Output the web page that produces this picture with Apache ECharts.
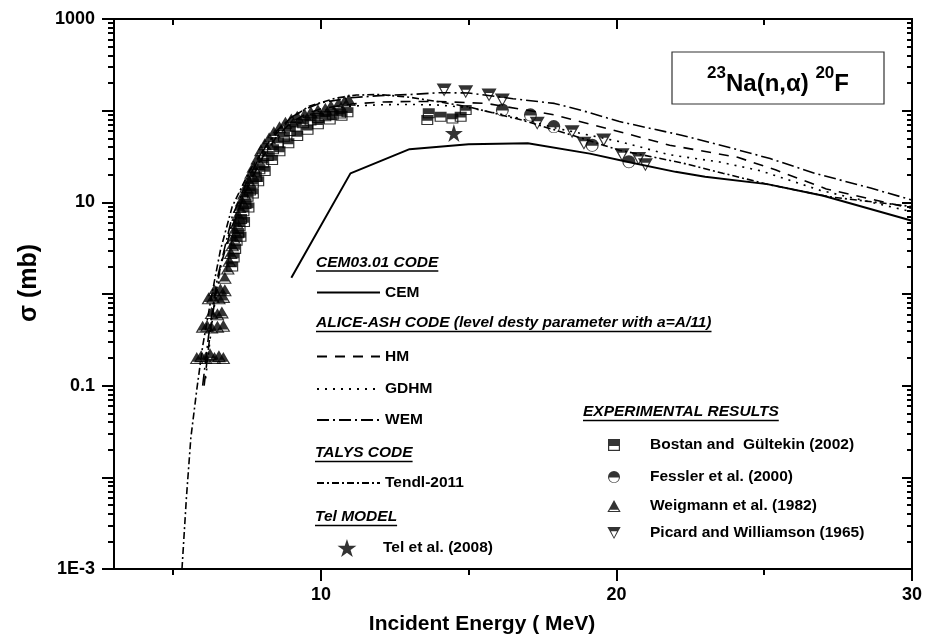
<!DOCTYPE html>
<html>
<head>
<meta charset="utf-8">
<script src="https://cdn.jsdelivr.net/npm/echarts@6/dist/echarts.min.js"></script>
<style>
html,body{margin:0;padding:0;background:#fff;}
#chart{width:933px;height:642px;}
</style>
</head>
<body>
<div id="chart"></div>
<script>
// ---------------- DATA ----------------
const X_LABELS = [10, 20, 30];
const X_MINOR = [5, 15, 25];
const Y_LABELS = [0.001, 0.1, 10, 1000];
const Y_DECADES = [0.001, 0.01, 0.1, 1, 10, 100, 1000];

const CEM = [[9.0,1.5],[11.0,20.7],[13.0,38],[15.0,43],[17.0,44],[19.1,34],[20.4,27.5],[22.0,21.5],[23.0,19],[25.1,15.8],[27.0,11.8],[30.0,6.3]];
const HM = [[6.05,0.1],[6.3,0.5],[6.6,2.0],[7.0,5.5],[7.5,14],[8.0,30],[8.5,52],[9.0,75],[9.5,92],[10.0,105],[11.0,118],[12.0,124],[13.0,126],[14.0,126],[15.6,120],[17.9,90],[20.1,59],[21.8,42],[24.1,31],[25.4,22.5],[27.1,14],[30.0,8.6]];
const GDHM = [[6.1,0.12],[6.35,0.6],[6.65,2.3],[7.0,6],[7.5,15],[8.0,31],[8.5,52],[9.0,72],[9.5,88],[10.0,100],[11.0,112],[12.0,116],[13.0,117],[14.0,115],[15.0,108],[16.5,86],[18.0,64],[20.1,46],[21.8,33],[23.5,27.5],[24.9,22],[26.9,13.5],[30.0,7.9]];
const WEM = [[6.0,0.1],[6.2,0.35],[6.5,1.5],[7.0,7],[7.5,17],[8.0,35],[8.5,60],[9.0,85],[9.5,105],[10.0,122],[11.0,138],[12.0,146],[13.0,150],[14.0,157],[15.0,156],[16.5,135],[17.9,120],[19.0,97],[20.1,76],[22.2,54],[23.9,39],[25.2,30],[26.7,20.8],[28.6,14.3],[30.0,10.6]];
const TENDL = [[5.3,0.001],[5.45,0.006],[5.6,0.027],[5.8,0.09],[6.0,0.27],[6.3,0.95],[6.6,3.0],[7.0,9],[7.6,22.5],[8.2,44],[8.9,79],[9.6,112],[10.5,137],[11.2,148],[12.0,150],[13.0,140],[14.0,125],[15.0,110],[16.8,79],[18.5,54],[20.1,37],[22.2,27],[23.6,20.8],[25.2,15.5],[27.2,11.5],[30.0,9.0]];

const TEL = [[14.5,57]];
const BOSTAN = [[7.0,2.0],[7.05,2.5],[7.1,3.1],[7.15,3.8],[7.2,4.6],[7.25,5.5],[7.3,6.6],[7.38,8],[7.45,9.6],[7.52,11.5],[7.6,13.5],[7.7,16],[7.8,19],[7.92,23],[8.05,27],[8.2,32],[8.38,38],[8.55,45],[8.75,52],[8.95,60],[9.15,67],[9.4,73],[9.65,78],[9.9,83],[10.15,87],[10.4,90],[10.65,93],[10.9,96],
  [7.28,4.2],[7.4,6.1],[7.55,8.8],[7.7,12.5],[7.88,17],[8.1,22],[8.35,29],[8.6,36],[8.9,44],[9.2,53],[9.55,62],[9.9,71],[10.3,80],[10.7,88],
  [13.6,79],[13.65,94],[14.05,86],[14.45,82],[14.73,86],[14.9,102]];
const FESSLER = [[16.14,102],[17.09,90],[17.88,67],[19.18,42],[20.42,27.8]];
const WEIGMANN = [[5.8,0.2],[5.95,0.21],[6.1,0.2],[6.25,0.22],[6.4,0.2],[6.55,0.21],[6.7,0.2],
  [6.0,0.44],[6.15,0.45],[6.3,0.43],[6.5,0.44],[6.7,0.45],
  [6.3,0.62],[6.5,0.6],[6.65,0.63],
  [6.2,0.9],[6.35,0.92],[6.55,0.9],[6.7,0.93],
  [6.4,1.1],[6.6,1.12],[6.75,1.1],
  [6.75,1.5],[6.85,1.9],[6.9,2.3],[6.95,2.8],[7.0,3.4],[7.05,4.1],[7.08,5.0],[7.15,6.0],[7.2,7.3],[7.25,8.9],[7.32,10.5],[7.4,12.5],[7.47,14.8],[7.55,17.5],[7.64,21],[7.72,24.5],[7.85,30],[7.97,37],[8.1,43],[8.25,50],[8.41,58],[8.6,66],[8.8,74],[9.0,80],[9.2,86],[9.45,91],[9.66,96],[9.9,101],[10.15,105],[10.34,112],[10.6,120],[10.8,126],[10.95,131]];
const PICARD = [[14.17,168],[14.9,161],[15.69,148],[16.14,131],[17.32,73],[18.5,59],[18.9,44],[19.57,48],[20.19,33],[20.75,30],[20.98,25.7]];

// ---------------- STYLE ----------------
const FF = '"Liberation Sans", Arial, sans-serif';
const SYM_TRI_UP = 'path://M50,0 L86.1,65 L13.9,65 Z M13.9,65 L86.1,65 L100,90 L0,90 Z M19.4,73 L14.4,82 L85.6,82 L80.6,73 Z';
const SYM_TRI_DOWN = 'path://M0,0 L100,0 L86.1,25 L13.9,25 Z M13.9,25 L86.1,25 L50,90 Z M27.2,31 L50,76 L72.8,31 Z';
const SYM_SQUARE = 'path://M0,0 L100,0 L100,50 L0,50 Z M0,50 L100,50 L100,100 L0,100 Z M10,58 L10,90 L90,90 L90,58 Z';
const SYM_CIRCLE = 'path://M0,50 A50,50 0 0 1 100,50 Z M0,50 L100,50 A50,50 0 0 1 0,50 Z M9,54 A41,41 0 0 0 91,54 Z';
const SYM_STAR = 'path://M50,0 L61.2,34.5 L97.6,34.5 L68.2,55.9 L79.4,90.5 L50,69.1 L20.6,90.5 L31.8,55.9 L2.4,34.5 L38.8,34.5 Z';

const yMinor = [];
[0.001, 0.01, 0.1, 1, 10, 100].forEach(d => { for (let m = 2; m <= 9; m++) yMinor.push(+(d * m).toPrecision(3)); });

const mctx = document.createElement('canvas').getContext('2d');
function textW(t, font) { mctx.font = font; return mctx.measureText(t).width; }

const chart = echarts.init(document.getElementById('chart'), null, {renderer: 'canvas'});

const axisLineStyle = {color: '#000', width: 2};
function xAx(pos, ticks, len, inside, extra) {
  return Object.assign({
    type: 'value', min: 3, max: 30, position: pos,
    axisLine: {show: true, lineStyle: axisLineStyle},
    axisTick: {show: true, inside: inside, customValues: ticks, length: len, lineStyle: {color: '#000', width: 2}},
    axisLabel: {show: false},
    splitLine: {show: false}
  }, extra || {});
}
function yAx(pos, ticks, len, inside, extra) {
  return Object.assign({
    type: 'log', logBase: 10, min: 0.001, max: 1000, position: pos,
    axisLine: {show: true, lineStyle: axisLineStyle},
    axisTick: {show: true, inside: inside, customValues: ticks, length: len, lineStyle: {color: '#000', width: 2}},
    axisLabel: {show: false},
    splitLine: {show: false}, minorTick: {show: false}
  }, extra || {});
}

const labelFont = {fontFamily: FF, fontWeight: 'bold', fontSize: 18, color: '#000'};

const xAxes = [
  xAx('bottom', X_LABELS, 12, false, {
    axisLabel: {show: true, customValues: X_LABELS, margin: 17, ...labelFont},
    name: 'Incident Energy ( MeV)', nameLocation: 'middle', nameGap: 45,
    nameTextStyle: {fontFamily: FF, fontWeight: 'bold', fontSize: 21, color: '#000', padding: [0, 62, 0, 0]}
  }),
  xAx('bottom', X_MINOR, 6, false),
  xAx('top', X_LABELS, 10, true),
  xAx('top', X_MINOR, 6, true)
];
const yAxes = [
  yAx('left', Y_DECADES, 12, false, {
    axisLabel: {show: true, customValues: Y_LABELS, margin: 19, ...labelFont,
      formatter: v => { const e = Math.round(Math.log10(v)); return e === -3 ? '1E-3' : e === -1 ? '0.1' : e === 1 ? '10' : '1000'; }},
    name: 'σ (mb)', nameLocation: 'middle', nameGap: 72,
    nameTextStyle: {fontFamily: FF, fontWeight: 'bold', fontSize: 25, color: '#000', padding: [0, 0, 0, 22]}
  }),
  yAx('left', yMinor, 6, false),
  yAx('right', Y_DECADES, 10, true),
  yAx('right', yMinor, 5, true)
];

function lineSeries(name, data, dash, width) {
  return {
    name, type: 'line', data, xAxisIndex: 0, yAxisIndex: 0,
    symbol: 'circle', symbolSize: 0, showSymbol: false, smooth: false,
    itemStyle: {color: '#000'},
    lineStyle: {color: '#000', width: width || 1.6, type: dash},
    emphasis: {disabled: true}, silent: true, z: 2
  };
}
function scatterSeries(name, data, symbol, size) {
  return {
    name, type: 'scatter', data, xAxisIndex: 0, yAxisIndex: 0,
    symbol, symbolSize: size, itemStyle: {color: '#000', borderWidth: 0},
    emphasis: {disabled: true}, silent: true, z: 3
  };
}

const series = [
  lineSeries('CEM', CEM, 'solid', 2),
  lineSeries('HM', HM, [10, 8]),
  lineSeries('GDHM', GDHM, [2, 6]),
  lineSeries('WEM', WEM, [12, 4, 2, 4]),
  lineSeries('Tendl-2011', TENDL, [7, 3, 2, 3]),
  scatterSeries('Bostan and  Gültekin (2002)', BOSTAN, SYM_SQUARE, [12, 10]),
  scatterSeries('Weigmann et al. (1982)', WEIGMANN, SYM_TRI_UP, [14, 12]),
  scatterSeries('Fessler et al. (2000)', FESSLER, SYM_CIRCLE, [13, 13]),
  scatterSeries('Picard and Williamson (1965)', PICARD, SYM_TRI_DOWN, [15, 13]),
  scatterSeries('Tel et al. (2008)', TEL, SYM_STAR, [18, 18])
];

const legendText = {fontFamily: FF, fontWeight: 'bold', fontSize: 15.5, color: '#000', lineHeight: 16};
function lineLegend(name, centerY) {
  return {data: [name], left: 316, top: centerY - 8, orient: 'horizontal', padding: 0,
    itemWidth: 63, itemHeight: 16, itemGap: 0, selectedMode: false,
    itemStyle: {opacity: 0}, textStyle: legendText};
}
// legend box is laid out from the icon's visible left edge, so left = icon centre - icon width / 2
function symLegend(name, iconCenterX, iconW, centerY, h) {
  return {data: [name], left: iconCenterX - iconW / 2, top: centerY - 8, orient: 'horizontal', padding: 0,
    itemWidth: 62, itemHeight: h, itemGap: 0, selectedMode: false, textStyle: legendText};
}
const legends = [
  lineLegend('CEM', 292.5),
  lineLegend('HM', 356.5),
  lineLegend('GDHM', 389),
  lineLegend('WEM', 420),
  lineLegend('Tendl-2011', 483),
  symLegend('Tel et al. (2008)', 347, 19, 547, 18),
  symLegend('Bostan and  Gültekin (2002)', 614, 12, 445, 12),
  symLegend('Fessler et al. (2000)', 614, 12, 477, 12),
  symLegend('Weigmann et al. (1982)', 614, 13.3, 506, 12),
  symLegend('Picard and Williamson (1965)', 614, 13.3, 533, 12)
];

// headings (underlined, bold italic)
const HFONT = 'italic bold 15.5px ' + FF;
const headings = [
  ['CEM03.01 CODE', 316, 262.5],
  ['ALICE-ASH CODE (level desty parameter with a=A/11)', 316, 323],
  ['TALYS CODE', 315, 453],
  ['Tel MODEL', 315, 517],
  ['EXPERIMENTAL RESULTS', 583, 412]
];
const graphics = [];
headings.forEach(([t, x, y]) => {
  const w = textW(t, HFONT);
  graphics.push({type: 'text', x: x, y: y, silent: true,
    style: {text: t, font: HFONT, fill: '#000', align: 'left', verticalAlign: 'middle'}});
  graphics.push({type: 'line', silent: true,
    shape: {x1: x, y1: y + 8.5, x2: x + w, y2: y + 8.5}, style: {stroke: '#000', lineWidth: 1.3}});
});

// title box
const SUPF = 'bold 17px ' + FF, MAINF = 'bold 24px ' + FF;
const parts = [['23', SUPF, 73], ['Na(n,α) ', MAINF, 84], ['20', SUPF, 73], ['F', MAINF, 84]];
let tw = 0; parts.forEach(p => tw += textW(p[0], p[1]));
let cx = 778 - tw / 2;
graphics.push({type: 'rect', silent: true, shape: {x: 672, y: 52, width: 212, height: 52},
  style: {fill: '#fff', stroke: '#333', lineWidth: 1.2}, z: 10});
parts.forEach(p => {
  graphics.push({type: 'text', x: cx, y: p[2], silent: true, z: 11,
    style: {text: p[0], font: p[1], fill: '#000', align: 'left', verticalAlign: 'middle'}});
  cx += textW(p[0], p[1]);
});

chart.setOption({
  animation: false,
  backgroundColor: '#fff',
  textStyle: {fontFamily: FF},
  grid: {left: 114, right: 21, top: 19, bottom: 73, containLabel: false},
  xAxis: xAxes,
  yAxis: yAxes,
  legend: legends,
  series: series,
  graphic: graphics
});
</script>
</body>
</html>
